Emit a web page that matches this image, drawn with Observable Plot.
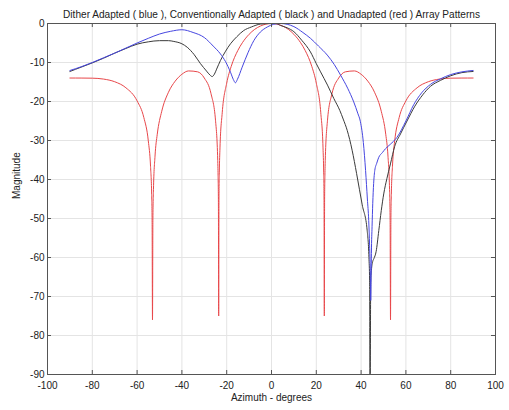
<!DOCTYPE html>
<html>
<head>
<meta charset="utf-8">
<script src="https://cdn.jsdelivr.net/npm/d3@7"></script>
<script src="https://cdn.jsdelivr.net/npm/@observablehq/plot@0.6"></script>
<style>
  html, body { margin: 0; padding: 0; background: #fff; }
  #chart svg { display: block; }
</style>
</head>
<body>
<div id="chart"></div>
<script>
const titleText = "Dither Adapted ( blue ), Conventionally Adapted ( black ) and Unadapted (red ) Array Patterns";
const xLabel = "Azimuth - degrees";
const yLabel = "Magnitude";
const xTicks = [-100, -80, -60, -40, -20, 0, 20, 40, 60, 80, 100];
const yTicks = [0, -10, -20, -30, -40, -50, -60, -70, -80, -90];

// Unadapted (red)
const redAz = [-90, -85, -80, -75, -70, -65, -60, -57, -55, -54, -53.5, -53.3, -53.13, -52.95, -52.7, -52, -51, -49, -46, -43, -40, -37, -33, -30, -27, -25, -24, -23.85, -23.7, -23.58, -23.45, -23.3, -23, -22, -20, -18, -15, -13, -10, -5, 0,
  5, 10, 13, 15, 18, 20, 22, 23, 23.3, 23.45, 23.58, 23.7, 23.85, 24, 25, 27, 30, 33, 37, 40, 43, 46, 49, 51, 52, 52.7, 52.95, 53.13, 53.3, 53.5, 54, 55, 57, 60, 65, 70, 75, 80, 85, 90];
const redMag = [-13.98, -13.99, -14.02, -14.25, -14.93, -16.48, -19.84, -24.1, -30.1, -36.6, -43.8, -50.6, -76, -50.1, -42.6, -34.0, -28.4, -22.5, -17.63, -14.78, -13.02, -12.16, -12.39, -13.98, -18.0, -24.8, -35.1, -38.9, -45.9, -75, -45.0, -38.3, -31.9, -22.9, -15.3, -11.02, -6.88, -4.93, -2.77, -0.66, 0,
  -0.66, -2.77, -4.93, -6.88, -11.02, -15.3, -22.9, -31.9, -38.3, -45.0, -75, -45.9, -38.9, -35.1, -24.8, -18.0, -13.98, -12.39, -12.16, -13.02, -14.78, -17.63, -22.5, -28.4, -34.0, -42.6, -50.1, -76, -50.6, -43.8, -36.6, -30.1, -24.1, -19.84, -16.48, -14.93, -14.25, -14.02, -13.99, -13.98];

// Conventionally adapted (black)
const blackAz = [-90, -85, -80, -75, -70, -65, -60, -55, -50, -46, -43.6, -40, -37.6, -34.5, -31.7, -29, -27.5, -26.5, -25.5, -24.5, -22.8, -20.5, -18.3, -15.5, -12.4, -9, -4.9, 0, 2, 4, 7, 10, 13.5, 17.4, 20, 21.9, 25, 27.8, 30.5, 32, 33.8, 36, 38, 40.5, 42.7, 43.5, 43.8, 44.0, 44.3, 44.6, 45.2, 45.7, 46.7, 47.9, 49, 50.1, 51.5, 53.1, 55, 57.6, 60.5, 64, 67.5, 71, 75.4, 80, 85, 90];
const blackMag = [-12.3, -11.2, -10.1, -8.9, -7.6, -6.4, -5.3, -4.7, -4.4, -4.4, -4.6, -5.2, -6.1, -8.0, -10.3, -12.2, -13.2, -13.6, -13.0, -11.7, -9.5, -7.1, -5.2, -3.4, -1.8, -0.9, -0.15, 0, 0, -0.5, -1.1, -2.1, -4.3, -7.3, -10.3, -12.4, -15.8, -19.2, -22.3, -24.5, -27.4, -32.5, -38.5, -46.5, -53, -60, -66, -100, -66, -63.3, -61, -60.3, -58.5, -53.1, -48, -43.7, -39.8, -36, -31.5, -28.3, -25, -21.2, -18.3, -16.1, -14.6, -13.4, -12.6, -12.3];

// Dither adapted (blue)
const blueAz = [-90, -85, -80, -75, -70, -65, -60, -55, -50, -45, -40, -35, -30, -26, -22.8, -20.5, -18.3, -17, -16.1, -15.2, -13.1, -10.5, -7.9, -5, -1.9, 1, 4, 7, 10, 14, 17.4, 21, 24.9, 28, 30.8, 34, 36.7, 38.5, 39.7, 41, 42, 42.8, 43.4, 43.8, 44.1, 44.3, 44.5, 44.6, 44.9, 45.2, 45.6, 46.1, 47, 47.9, 49.5, 50.9, 53, 56, 60, 63.5, 67, 71, 75.4, 80, 85, 90];
const blueMag = [-12.05, -11.1, -10.0, -8.8, -7.6, -6.3, -5.0, -3.8, -2.7, -2.0, -1.6, -2.3, -3.6, -5.8, -7.8, -9.8, -12.5, -14.4, -15.2, -14.3, -11.2, -7.5, -4.4, -2.2, -0.9, -0.2, 0, -0.2, -0.8, -2.3, -3.8, -5.8, -8.1, -10.5, -13.2, -16.6, -20.1, -23, -25.2, -30.5, -37.7, -45, -50.5, -57, -63.3, -71, -64, -59, -52, -46.2, -41, -37.7, -35.8, -34.3, -33.1, -32.1, -31.0, -29.2, -25.0, -20.8, -17.8, -15.6, -14.2, -13.1, -12.4, -12.05];

const W = 509, H = 410;
const mL = 47, mR = 14, mT = 23, mB = 36;
const fw = W - mL - mR, fh = H - mT - mB;
const font = "'Liberation Sans', Arial, Helvetica, sans-serif";
const fmt = d => String(d);

const chart = Plot.plot({
  width: W,
  height: H,
  marginLeft: mL,
  marginRight: mR,
  marginTop: mT,
  marginBottom: mB,
  style: { fontFamily: font, fontSize: "10px", background: "#fff", color: "#222" },
  x: { domain: [-100, 100] },
  y: { domain: [-90, 0] },
  marks: [
    Plot.ruleX(xTicks, { x: d => d, stroke: "#e4e4e4", strokeWidth: 1 }),
    Plot.ruleY(yTicks, { y: d => d, stroke: "#e4e4e4", strokeWidth: 1 }),
    Plot.line(redMag, { x: redAz, y: redMag, stroke: "#e8474a", strokeWidth: 1, curve: "monotone-x", clip: true }),
    Plot.line(blackMag, { x: blackAz, y: blackMag, stroke: "#3a3a3a", strokeWidth: 1, curve: "monotone-x", clip: true }),
    Plot.line(blueMag, { x: blueAz, y: blueMag, stroke: "#4646e0", strokeWidth: 1, curve: "monotone-x", clip: true }),
    Plot.ruleX(xTicks, { x: d => d, stroke: "#555", insetTop: fh - 4 }),
    Plot.ruleX(xTicks, { x: d => d, stroke: "#555", insetBottom: fh - 4 }),
    Plot.ruleY(yTicks, { y: d => d, stroke: "#555", insetRight: fw - 4 }),
    Plot.ruleY(yTicks, { y: d => d, stroke: "#555", insetLeft: fw - 4 }),
    Plot.frame({ stroke: "#555" }),
    Plot.axisX({ ticks: xTicks, tickFormat: fmt, tickSize: 0, tickPadding: 7, label: null, fontSize: 10 }),
    Plot.axisY({ ticks: yTicks, tickFormat: fmt, tickSize: 0, tickPadding: 3, label: null, fontSize: 10 }),
    Plot.text([titleText], { frameAnchor: "top", dy: -13, fontSize: 10.1, fill: "#222" }),
    Plot.text([xLabel], { frameAnchor: "bottom", dy: 26, fontSize: 10, fill: "#222" }),
    Plot.text([yLabel], { frameAnchor: "left", rotate: -90, dx: -31, fontSize: 10, fill: "#222" })
  ]
});
document.getElementById("chart").appendChild(chart);
</script>
</body>
</html>
